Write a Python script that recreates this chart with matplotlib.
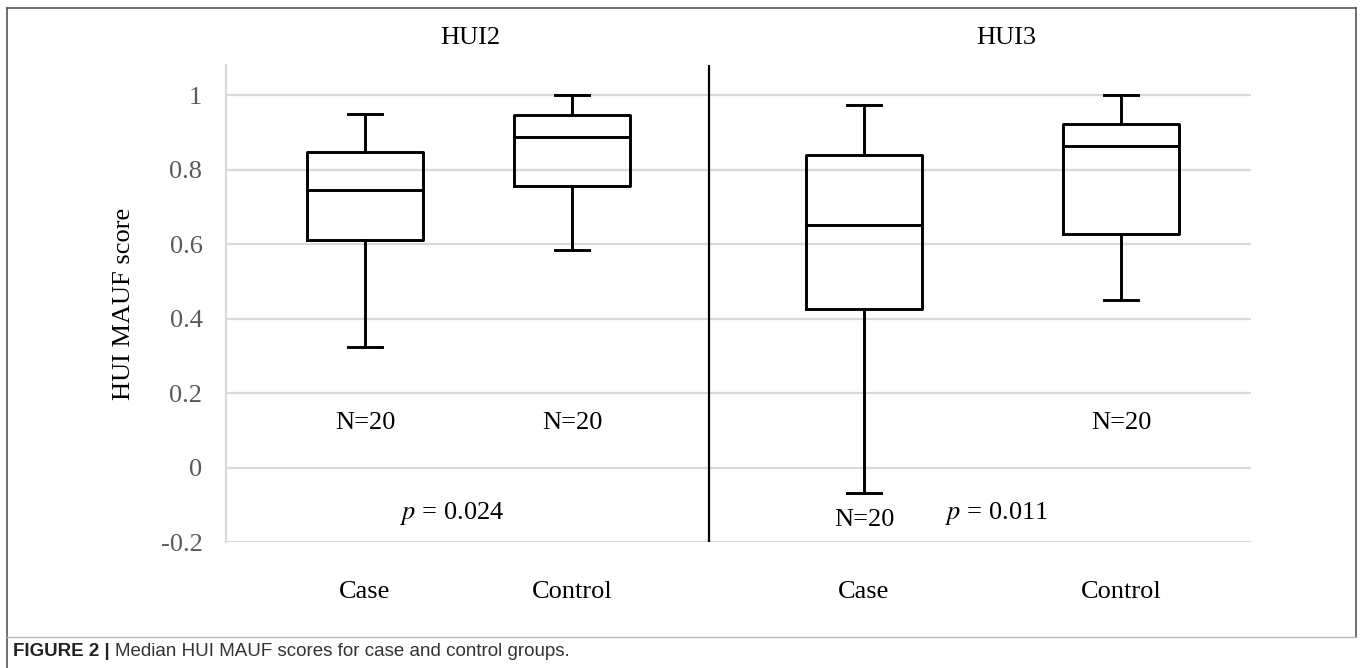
import matplotlib
matplotlib.use("Agg")
import matplotlib.pyplot as plt
from matplotlib.lines import Line2D

plt.rcParams["mathtext.fontset"] = "stix"

# ---- data ----
panels = ["HUI2", "HUI3"]
groups = ["Case", "Control", "Case", "Control"]
whislo = [0.325, 0.585, -0.067, 0.451]
q1 = [0.610, 0.755, 0.427, 0.626]
med = [0.745, 0.888, 0.652, 0.862]
q3 = [0.848, 0.947, 0.838, 0.922]
whishi = [0.948, 1.000, 0.972, 1.000]
n_labels = ["N=20", "N=20", "N=20", "N=20"]
n_label_y = [0.12, 0.12, -0.14, 0.12]
p_labels = ["0.024", "0.011"]
yticks = [-0.2, 0, 0.2, 0.4, 0.6, 0.8, 1]
ytick_labels = ["-0.2", "0", "0.2", "0.4", "0.6", "0.8", "1"]

W, H = 1360, 668
fig = plt.figure(figsize=(W / 100, H / 100), dpi=100)

serif = ["Liberation Serif", "DejaVu Serif"]
sans = ["Liberation Sans", "DejaVu Sans"]

# axes geometry in pixels
ax_l, ax_r, ax_top, ax_bot = 226, 1251, 65, 542.3
ax = fig.add_axes([ax_l / W, 1 - ax_bot / H, (ax_r - ax_l) / W, (ax_bot - ax_top) / H])
ppu = 372.75  # pixels per y unit

positions = [1.39, 3.46, 6.38, 8.95]
divider_x = 4.83
ax.set_xlim(0, 10.25)
ax.set_ylim(-0.2, 1.0805)

stats = []
for i in range(len(groups)):
    stats.append(dict(whislo=whislo[i], q1=q1[i], med=med[i], q3=q3[i],
                      whishi=whishi[i], fliers=[], label=groups[i]))

lw = 2.1
ax.bxp(stats, positions=positions, widths=1.16, showfliers=False,
       boxprops=dict(color="black", linewidth=lw),
       medianprops=dict(color="black", linewidth=lw),
       whiskerprops=dict(color="black", linewidth=lw),
       capprops=dict(color="black", linewidth=lw),
       capwidths=0.34, zorder=3, manage_ticks=False)

# grid
ax.set_yticks(yticks)
ax.set_yticklabels(ytick_labels, fontfamily=serif, fontsize=19, color="#595959")
ax.yaxis.grid(True, color="#d9d9d9", linewidth=1.6, zorder=0)
ax.set_axisbelow(True)
ax.tick_params(axis="y", length=0, pad=17)
ax.set_xticks([])
for s in ["top", "right", "bottom"]:
    ax.spines[s].set_visible(False)
ax.spines["left"].set_color("#d9d9d9")
ax.spines["left"].set_linewidth(1.6)

# divider
ax.axvline(divider_x, color="black", linewidth=1.6, zorder=2)

# group labels under axes
for x, g in zip(positions, groups):
    ax.text(x, -0.2 - 50 / ppu, g, ha="center", va="center",
            fontfamily=serif, fontsize=19, color="black", clip_on=False)

# N labels
for x, n, ny in zip(positions, n_labels, n_label_y):
    ax.text(x, ny, n, ha="center", va="center", fontfamily=serif,
            fontsize=19, color="black")

# p values
p_x = [2.26, 7.71]
for x, p in zip(p_x, p_labels):
    ax.text(x, -0.123, r"$p$" + " = " + p, ha="center", va="center",
            fontfamily=serif, fontsize=19, color="black")

# panel titles
for x, t in zip([2.44, 7.8], panels):
    ax.text(x, 1.0805 + 27 / ppu, t, ha="center", va="center",
            fontfamily=serif, fontsize=19, color="black", clip_on=False)

ax.set_ylabel("HUI MAUF score", fontfamily=serif, fontsize=19, color="black")
ax.yaxis.set_label_coords((135 - ax_l) / (ax_r - ax_l), 0.5)

# frame
frame_col = "#555555"
fig.add_artist(Line2D([7 / W, 1356 / W], [1 - 8 / H, 1 - 8 / H], color=frame_col, lw=1.2))
fig.add_artist(Line2D([7 / W, 7 / W], [1 - 8 / H, 0], color=frame_col, lw=1.2))
fig.add_artist(Line2D([1356 / W, 1356 / W], [1 - 8 / H, 1 - 637 / H], color=frame_col, lw=1.2))
fig.add_artist(Line2D([7 / W, 1356 / W], [1 - 637 / H, 1 - 637 / H], color="#bbbbbb", lw=1.0))

# caption
cap_y = 1 - 652 / H
t1 = fig.text(13 / W, cap_y, "FIGURE 2 |", fontfamily=sans, fontweight="bold",
              fontsize=13.5, color="#222222", va="center", ha="left")
fig.canvas.draw()
bb = t1.get_window_extent()
fig.text((bb.x1 + 5) / W, cap_y, "Median HUI MAUF scores for case and control groups.",
         fontfamily=sans, fontsize=13.5, color="#333333", va="center", ha="left")

fig.savefig("out.png", dpi=100)
